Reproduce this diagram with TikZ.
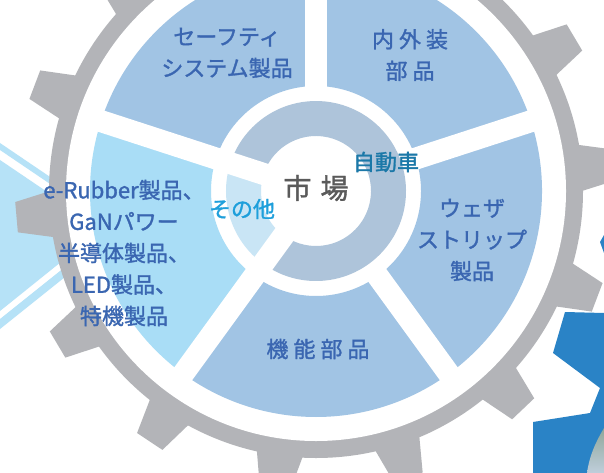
\documentclass[tikz,border=0pt]{standalone}
\usepackage{fontspec}
\setmainfont{Noto Sans CJK JP}[FakeBold=1.4,AutoFakeBold=1.4]
\usetikzlibrary{calc}
\definecolor{segblue}{HTML}{A1C4E4}
\definecolor{rubberc}{HTML}{A9DDF6}
\definecolor{ringc}{HTML}{AEC4DA}
\definecolor{otherc}{HTML}{C9E5F5}
\definecolor{gearg}{HTML}{B3B4B8}
\definecolor{txtblue}{HTML}{3A66B1}
\definecolor{othertxt}{HTML}{1E9FDB}
\definecolor{cartxt}{HTML}{1B78A8}
\definecolor{mkttxt}{HTML}{5A5A5A}
\definecolor{gearblue}{HTML}{2A83C6}
\definecolor{phototop}{HTML}{8FA79A}
\definecolor{photobot}{HTML}{BFCEDB}
\newcommand\gapp{\hspace{5pt}}
\tikzset{
  lbl/.style={text=txtblue, inner sep=0pt, align=center, font=\fontsize{22}{31.5}\selectfont\bfseries},
  cartext/.style={text=cartxt, inner sep=0pt, font=\fontsize{22}{26}\selectfont\bfseries},
  othtext/.style={text=othertxt, inner sep=0pt, font=\fontsize{22}{26}\selectfont\bfseries},
  mkttext/.style={text=mkttxt, inner sep=0pt, font=\fontsize{28}{32}\selectfont\bfseries},
  spoke/.style={white, line width=22pt}
}
\begin{document}
\begin{tikzpicture}[x=1pt,y=-1pt]
\useasboundingbox (0,0) rectangle (604,473);
\fill[white] (0,0) rectangle (604,473);
% left light-blue shape behind the gear
\fill[rubberc!85!white] (0,160) -- (102,229) -- (0,311) -- cycle;
\fill[rubberc!85!white] (0,143) -- (90,204) -- (90,211) -- (0,150) -- cycle;
\fill[rubberc!85!white] (0,319) -- (90,247) -- (90,257) -- (0,329) -- cycle;
% right blue gear
\fill[gearblue] (565,312) -- (604,313) -- (604,473) -- (533,473) -- (533,422) -- (590,413) -- (600,388) -- (553,353) -- cycle;
\fill[gearblue] (600,242) -- (604,235) -- (604,253) -- cycle;
\shade[top color=phototop, bottom color=photobot] (604,428) .. controls (594,445) and (589,458) .. (587,473) -- (604,473) -- cycle;
% gray gear
\begin{scope}[shift={(316,191)}]
  \coordinate (G) at (0,0);
  \fill[gearg] (0,0) circle (267);
  \foreach \k in {0,...,13}{
    \pgfmathsetmacro\a{-(5+\k*25.714)}
    \fill[gearg] (\a-5.2:263) -- (\a-2.9:301) -- (\a+2.9:301) -- (\a+5.2:263) -- cycle;
  }
  \fill[white] (0,0) circle (250);
  % outer segments
  \fill[segblue] (-90:105) arc (-90:-18:105) -- (-18:226) arc (-18:-90:226) -- cycle;
  \fill[segblue] (-18:105) arc (-18:54:105) -- (54:226) arc (54:-18:226) -- cycle;
  \fill[segblue] (54:105) arc (54:126:105) -- (126:226) arc (126:54:226) -- cycle;
  \fill[rubberc] (126:105) arc (126:198:105) -- (198:226) arc (198:126:226) -- cycle;
  \fill[segblue] (198:105) arc (198:270:105) -- (270:226) arc (270:198:226) -- cycle;
  % inner ring
  \fill[otherc] (126:55) arc (126:198:55) -- (198:90) arc (198:126:90) -- cycle;
  \fill[ringc] (198:55) arc (198:486:55) -- (486:90) arc (486:198:90) -- cycle;
  % spokes
  \draw[spoke] (-90:95) -- (-90:240);
  \draw[spoke] (-18:95) -- (-18:240);
  \draw[spoke] (54:95) -- (54:240);
  \draw[spoke] (126:50) -- (126:240);
  \draw[spoke] (198:50) -- (198:240);
\end{scope}
% labels
\node[lbl] (safety) at (227,53) {セーフティ\\システム製品};
\node[lbl] (naigai) at (410,55) {内\gapp 外\gapp 装\\部\gapp 品};
\node[cartext] (car) at (386,162) {自動車};
\node[mkttext] (mkt) at (316,188) {市\hspace{9pt}場};
\node[othtext] (other) at (242,209) {その他};
\node[lbl] (weather) at (472,240) {ウェザ\\ストリップ\\製品};
\node[lbl] (rubber) at (124,253) {e-Rubber製品、\\GaNパワー\\半導体製品、\\LED製品、\\特機製品};
\node[lbl] (kino) at (318,349) {機\gapp 能\gapp 部\gapp 品};
\end{tikzpicture}
\end{document}
